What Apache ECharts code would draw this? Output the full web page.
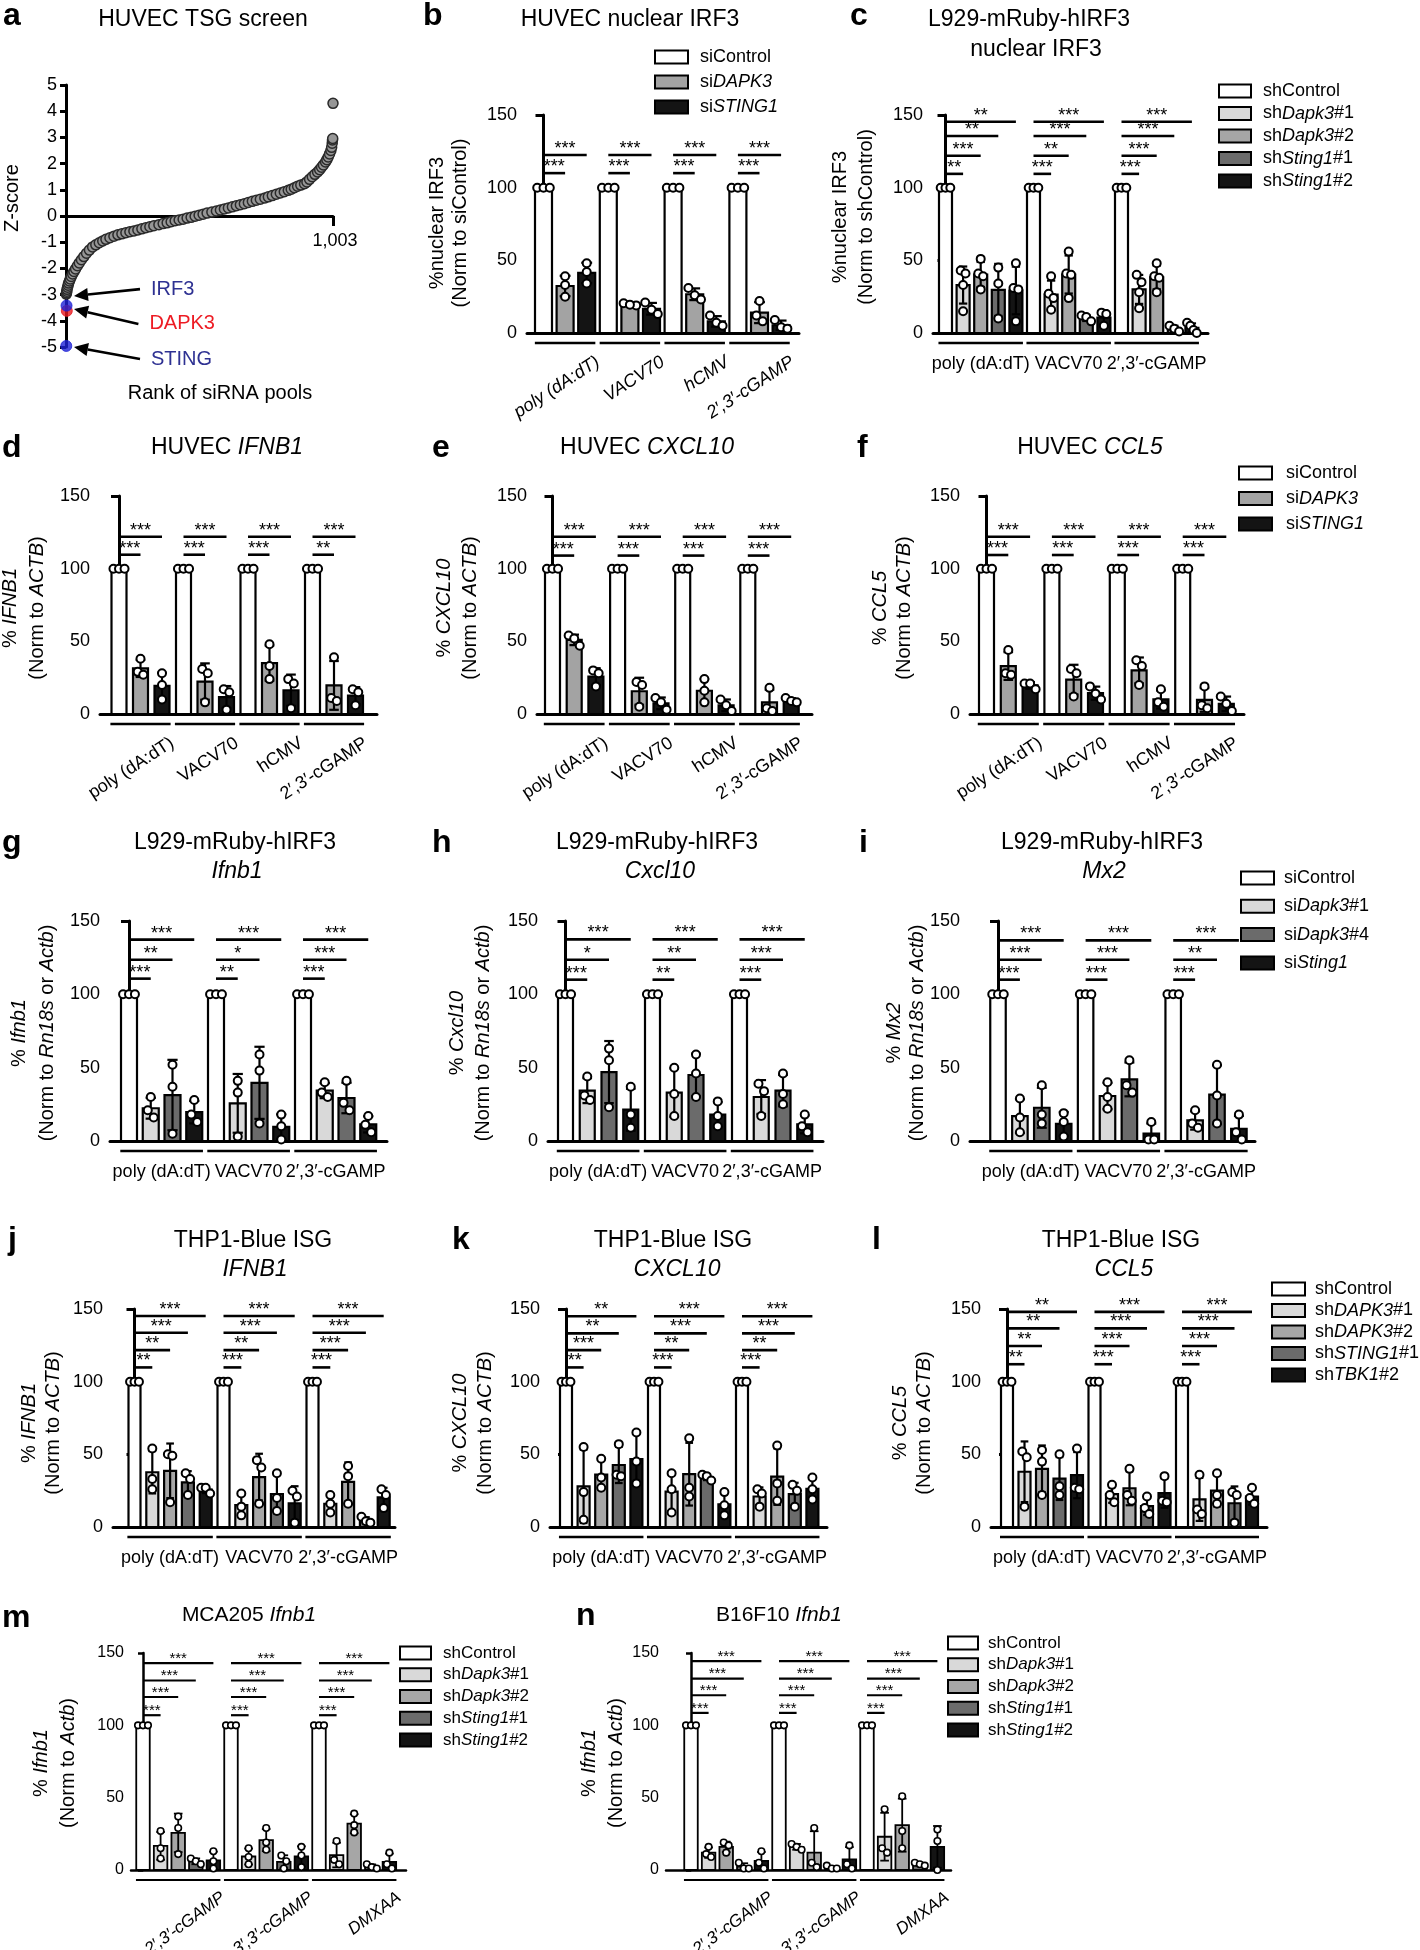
<!DOCTYPE html>
<html><head><meta charset="utf-8">
<script src="https://cdn.jsdelivr.net/npm/echarts@6/dist/echarts.min.js"></script>
<style>html,body{margin:0;padding:0;background:#fff}#c{width:1420px;height:1950px}</style>
</head><body><div id="c"></div><script>
const FONT = '"Liberation Sans", Arial, Helvetica, sans-serif';

/* ===================== DATA ===================== */
// Panel a: TSG screen ranks and Z-scores
const aRank = [1,2,3,4,6,8,10,13,16,20,25,30,36,43,50,58,67,77,88,100,112,125,138,150,165,180,195,210,225,240,255,270,285,300,315,330,349,365,380,395,410,425,440,455,470,485,500,515,530,548,565,580,595,610,625,640,655,670,685,700,715,730,747,760,775,790,805,820,835,846,858,870,882,896,905,915,925,935,945,953,960,967,975,980,985,990,995,998,1000,1001,1002,1003];
const aZ = [-2.98,-2.93,-2.87,-2.8,-2.72,-2.64,-2.56,-2.48,-2.4,-2.31,-2.21,-2.12,-2.02,-1.9,-1.79,-1.67,-1.55,-1.42,-1.3,-1.18,-1.1,-1.02,-0.95,-0.89,-0.83,-0.77,-0.72,-0.68,-0.64,-0.6,-0.57,-0.53,-0.49,-0.45,-0.41,-0.37,-0.33,-0.29,-0.26,-0.22,-0.18,-0.15,-0.12,-0.08,-0.05,-0.01,0.03,0.07,0.11,0.15,0.19,0.23,0.27,0.31,0.35,0.39,0.43,0.47,0.52,0.56,0.6,0.64,0.69,0.73,0.78,0.83,0.88,0.93,0.98,1.02,1.08,1.14,1.18,1.23,1.3,1.4,1.5,1.59,1.68,1.77,1.86,1.95,2.06,2.15,2.25,2.37,2.5,2.62,2.78,2.9,2.96,4.3];
const aHitName = ['DAPK3', 'IRF3', 'STING'];
const aHitRank = [3, 2, 1];
const aHitZ = [-3.62, -3.42, -4.96];
const aTickLabel = '1,003';

// Groups
const grpHuvec = ['poly (dA:dT)', 'VACV70', 'hCMV', '2′,3′-cGAMP'];
const grpThree = ['poly (dA:dT)', 'VACV70', '2′,3′-cGAMP'];
const grpAgon = ['2′,3′-cGAMP', '3′,3′-cGAMP', 'DMXAA'];
// Conditions
const namesSiHuman = ['siControl', 'siDAPK3', 'siSTING1'];
const namesShMouse = ['shControl', 'shDapk3#1', 'shDapk3#2', 'shSting1#1', 'shSting1#2'];
const namesSiMouse = ['siControl', 'siDapk3#1', 'siDapk3#4', 'siSting1'];
const namesShHuman = ['shControl', 'shDAPK3#1', 'shDAPK3#2', 'shSTING1#1', 'shTBK1#2'];

// Replicate values [condition][group][replicate]
const bPts = [[[100,100,100],[100,100,100],[100,100,100],[100,100,100]],
  [[39,33,25],[20.5,19,19.5],[31,26,23],[22,12,8]],
  [[48,42,34],[21,16,13],[12,7,5],[9,4,3]]];
const bSigY = [110, 122.5];
const bStars = [['***','***'],['***','***'],['***','***'],['***','***']];

const cPts = [[[100,100,100],[100,100,100],[100,100,100]],
  [[43,41,33,15],[39,27,24,16],[40,35,28,17]],
  [[51,41,39,30],[56,41,40,24],[48,39,38,28]],
  [[45,34,10],[12,11,8],[5,3,1]],
  [[48,31,30,8],[14,13,5],[7,5,2,0]]];
const cSigY = [109.5, 122, 135.6, 145.4];
const cStars = [['**','***','**','**'],['***','**','***','***'],['***','***','***','***']];

const dPts = [[[100,100,100],[100,100,100],[100,100,100],[100,100,100]],
  [[38,29,27],[31,28,8],[48,33,24],[39,11,9]],
  [[28,20,10],[17,15,3],[24,21,4],[17,15,6]]];
const dSigY = [109.6, 122];
const dStars = [['***','***'],['***','***'],['***','***'],['**','***']];

const ePts = [[[100,100,100],[100,100,100],[100,100,100],[100,100,100]],
  [[54,52,47],[22,20,5],[24,16,8],[18,4,2]],
  [[30,28,19],[11,8,3],[10,6,2],[11,9,8]]];
const eSigY = [109, 122];
const eStars = [['***','***'],['***','***'],['***','***'],['***','***']];

const fPts = [[[100,100,100],[100,100,100],[100,100,100],[100,100,100]],
  [[44,28,27],[31,28,12],[37,33,20],[19,6,4]],
  [[21,21,17],[19,14,10],[17,8,5],[12,7,2]]];
const fSigY = [109.4, 122];
const fStars = [['***','***'],['***','***'],['***','***'],['***','***']];

const gPts = [[[100,100,100],[100,100,100],[100,100,100]],
  [[30,21,16],[41,33,3],[40,33,30]],
  [[52,37,5],[59,48,12],[41,26,21]],
  [[28,18,13],[18,10,1],[17,11,6]]];
const gSigY = [110.7, 123.6, 137.3];
const gStars = [['***','**','***'],['**','*','***'],['***','***','***']];

const hPts = [[[100,100,100],[100,100,100],[100,100,100]],
  [[44,31,28],[50,32,17],[39,34,17]],
  [[63,55,23],[59,46,30],[46,32,25]],
  [[37,18,9],[27,17,10],[18,10,6]]];
const hSigY = [110, 123.6, 137.5];
const hStars = [['***','*','***'],['**','**','***'],['***','***','***']];

const iPts = [[[100,100,100],[100,100,100],[100,100,100]],
  [[29,16,6],[40,30,22],[21,12,9]],
  [[38,18,12],[55,38,33],[52,31,12]],
  [[19,13,3],[13,1,1],[18,6,1]]];
const iSigY = [110, 123.6, 136.8];
const iStars = [['***','***','***'],['***','***','***'],['***','**','***']];

const jPts = [[[100,100,100],[100,100,100],[100,100,100]],
  [[54,33,26],[23,14,8],[22,16,10]],
  [[50,49,17],[46,41,16],[42,35,16]],
  [[37,33,22],[37,20,11],[7,4,3]],
  [[27,27,23],[25,21,3],[26,22,13]]];
const jSigY = [109.8, 121.7, 133.7, 145.2];
const jStars = [['**','**','***','***'],['***','**','***','***'],['***','***','***','***']];

const kPts = [[[100,100,100],[100,100,100],[100,100,100]],
  [[55,24,5],[37,26,10],[26,23,14]],
  [[47,34,27],[61,27,21],[56,30,18]],
  [[57,36,35],[36,35,32],[29,25,14]],
  [[65,45,30],[24,15,8],[34,26,19]]];
const kSigY = [109.8, 121.7, 133.2, 145];
const kStars = [['**','***','**','**'],['***','**','***','***'],['***','**','***','***']];

const lPts = [[[100,100,100],[100,100,100],[100,100,100]],
  [[52,48,14],[29,22,17],[36,12,9]],
  [[53,45,22],[40,22,18],[37,22,16]],
  [[50,28,22],[21,13,9],[24,22,3]],
  [[54,27,26],[35,18,17],[27,20,16]]];
const lSigY = [112, 124.5, 136.7, 148];
const lStars = [['**','**','**','**'],['***','***','***','***'],['***','***','***','***']];

const mPts = [[[100,100,100],[100,100,100],[100,100,100]],
  [[27,15,8],[15,9,4],[20,7,4]],
  [[37,29,11],[29,19,14],[39,31,26]],
  [[8,6,4],[10,6,1],[4,2,1]],
  [[13,6,1],[16,10,2],[12,4,1]]];
const mSigY = [107, 119.6, 131, 143];
const mStars = [['***','***','***','***'],['***','***','***','***'],['***','***','***','***']];

const nPts = [[[100,100,100],[100,100,100],[100,100,100]],
  [[16,11,9],[18,16,14],[42,15,12]],
  [[19,17,12],[29,5,2],[51,27,15]],
  [[5,1,1],[3,1,1],[5,4,3]],
  [[13,5,1],[17,4,1],[28,20,0]]];
const nSigY = [108.6, 120.8, 132.3, 144.4];
const nStars = [['***','***','***','***'],['***','***','***','***'],['***','***','***','***']];

/* ===================== STYLE / LAYOUT ===================== */
const fill3 = ['#ffffff', '#a3a3a3', '#141414'];
const fill4 = ['#ffffff', '#d9d9d9', '#6b6b6b', '#141414'];
const fill5 = ['#ffffff', '#d9d9d9', '#a6a6a6', '#6b6b6b', '#141414'];

const L = {
  b: {axisX:527, c0:543.5, pitch:21.6, xEnd:799, top:115, bottom:333, bw:17, rot:true, italic:true},
  c: {axisX:933, c0:945.5, pitch:17.6, xEnd:1208, top:115, bottom:333, bw:13},
  d: {axisX:100, c0:119, pitch:21.5, xEnd:377, top:496, bottom:714, bw:15, rot:true},
  e: {axisX:537, c0:552.5, pitch:21.7, xEnd:812, top:496, bottom:714, bw:15, rot:true},
  f: {axisX:970, c0:986.5, pitch:21.8, xEnd:1244, top:496, bottom:714, bw:15, rot:true},
  g: {axisX:110, c0:129, pitch:21.75, xEnd:387, top:921, bottom:1141, bw:16},
  h: {axisX:548, c0:565.5, pitch:21.75, xEnd:823, top:921, bottom:1141, bw:15},
  i: {axisX:970, c0:998, pitch:21.9, xEnd:1255, top:921, bottom:1141, bw:15.5},
  j: {axisX:113, c0:134.5, pitch:17.8, xEnd:395, top:1309, bottom:1527, bw:12},
  k: {axisX:550, c0:566, pitch:17.6, xEnd:827, top:1309, bottom:1527, bw:12},
  l: {axisX:991, c0:1007, pitch:17.5, xEnd:1267, top:1309, bottom:1527, bw:12},
  m: {axisX:131, c0:143, pitch:17.6, xEnd:406, top:1653, bottom:1870, bw:13.5, rot:true, italic:true, small:true},
  n: {axisX:666, c0:691, pitch:17.6, xEnd:951, top:1653, bottom:1870, bw:13.5, rot:true, italic:true, small:true}
};
// panel a annotation arrows (data coordinates: rank, z)
const aArrowFrom = {IRF3:[278, -2.79], DAPK3:[272, -4.12], STING:[278, -5.46]};
const aArrowTo = {IRF3:[30, -3.05], DAPK3:[30, -3.55], STING:[30, -5.0]};

/* ===================== BUILD ===================== */
const grids = [], xAxes = [], yAxes = [], series = [], graphics = [], legends = [];
const mean = a => a.reduce((s, v) => s + v, 0) / a.length;
const sd = a => { if (a.length < 2) return 0; const m = mean(a); return Math.sqrt(a.reduce((s, v) => s + (v - m) * (v - m), 0) / (a.length - 1)); };
function spread(vals, thr) {
  const idx = vals.map((v, i) => i).sort((p, q) => vals[q] - vals[p]);
  const offs = new Array(vals.length).fill(0);
  let cl = [idx[0]];
  const flush = () => { const k = cl.length; if (k > 1) { const span = Math.min(0.74, (k - 1) * 0.37); cl.forEach((ii, j) => { offs[ii] = -span / 2 + span * j / (k - 1); }); } };
  for (let j = 1; j < idx.length; j++) {
    if (vals[cl[cl.length - 1]] - vals[idx[j]] < thr) cl.push(idx[j]); else { flush(); cl = [idx[j]]; }
  }
  flush();
  return offs;
}
function txt(x, y, text, size, o) {
  o = o || {};
  const col = o.color || '#000';
  graphics.push({type:'text', x, y, rotation: o.rot || 0, silent:true, z: 10,
    style:{text, fill: col, fontSize: size, fontFamily: FONT, fontWeight: o.bold ? 'bold' : 'normal', fontStyle: o.italic ? 'italic' : 'normal',
      align: o.align || 'center', textAlign: o.align || 'center', verticalAlign:'middle', textVerticalAlign:'middle',
      rich:{i:{fontStyle:'italic', fontSize:size, fontFamily:FONT, fill:col, color:col}}}});
}
function legendFmt(name) {
  const r = name.match(/^(si|sh)(.+?)(#\d+)?$/);
  if (!r || r[2] === 'Control') return name;
  return r[1] + '{i|' + r[2] + '}' + (r[3] || '');
}
function legendAt(names, left, c1, spacing, textX, iw, fs) {
  const lh = fs + 2;
  legends.push({orient:'vertical', left, top: c1 - lh / 2, itemWidth: iw, itemHeight: 13, itemGap: spacing - lh, padding: 0,
    icon:'rect', data: names.slice(), selectedMode: false, formatter: legendFmt,
    itemStyle:{borderColor:'#000', borderWidth: 2},
    textStyle:{color:'#000', fontSize: fs, fontFamily: FONT, lineHeight: lh, padding:[0, 0, 0, Math.max(0, textX - (left + iw + 5))],
      rich:{i:{fontStyle:'italic', fontSize: fs, fontFamily: FONT, color:'#000', lineHeight: lh}}}});
}

function barPanel(P, groups, names, fills, pts, sigY, stars) {
  const gi = grids.length, n = names.length, bwU = P.bw / P.pitch, small = !!P.small;
  const axW = small ? 2.5 : 3, lw = small ? 1.8 : 2.2;
  grids.push({left: P.axisX, top: P.top, width: P.xEnd - P.axisX, height: P.bottom - P.top});
  xAxes.push({gridIndex: gi, type:'value', min: (P.axisX - P.c0) / P.pitch, max: (P.xEnd - P.c0) / P.pitch,
    axisLine:{show:true, onZero:false, lineStyle:{color:'#000', width: axW}}, axisTick:{show:false}, axisLabel:{show:false}, splitLine:{show:false}});
  yAxes.push({gridIndex: gi, type:'value', min: 0, max: 150, interval: 50,
    axisLine:{show:true, lineStyle:{color:'#000', width: axW}},
    axisTick:{show:true, length: small ? 5 : 8, lineStyle:{color:'#000', width: axW}},
    axisLabel:{color:'#000', fontSize: small ? 16 : 18, fontFamily: FONT, margin: small ? 7 : 10},
    splitLine:{show:false}});
  const pos = (g, s) => g * n + s;
  names.forEach((name, s) => {
    const data = groups.map((_, g) => [pos(g, s), mean(pts[s][g]), sd(pts[s][g])]);
    series.push({type:'custom', name, xAxisIndex: gi, yAxisIndex: gi, encode:{x:0, y:1}, data, clip:false, silent:true,
      itemStyle:{color: fills[s], borderColor:'#000', borderWidth: 2},
      renderItem: (params, api) => {
        const p = api.value(0), m = api.value(1), e = api.value(2);
        const a = api.coord([p - bwU / 2, m]), b = api.coord([p + bwU / 2, 0]);
        const ch = [{type:'rect', shape:{x:a[0], y:a[1], width:b[0] - a[0], height:b[1] - a[1]}, style:{fill: fills[s], stroke:'#000', lineWidth: lw}}];
        if (e > 0.01) {
          const hi = m + e, lo = Math.max(0, m - e);
          const t = api.coord([p, hi]), bo = api.coord([p, lo]);
          const cl = api.coord([p - bwU * 0.32, hi]), cr = api.coord([p + bwU * 0.32, hi]);
          ch.push({type:'line', shape:{x1:t[0], y1:t[1], x2:bo[0], y2:bo[1]}, style:{stroke:'#000', lineWidth: lw}});
          ch.push({type:'line', shape:{x1:cl[0], y1:cl[1], x2:cr[0], y2:cr[1]}, style:{stroke:'#000', lineWidth: lw}});
          if (lo > 0) {
            const l2 = api.coord([p - bwU * 0.32, lo]), r2 = api.coord([p + bwU * 0.32, lo]);
            ch.push({type:'line', shape:{x1:l2[0], y1:l2[1], x2:r2[0], y2:r2[1]}, style:{stroke:'#000', lineWidth: lw}});
          }
        }
        return {type:'group', children: ch};
      }});
  });
  // replicate dots
  const dotPx = small ? 6.5 : 8;
  const thr = dotPx * 0.95 / ((P.bottom - P.top) / 150);
  const dots = [];
  names.forEach((_, s) => groups.forEach((_, g) => {
    const v = pts[s][g], off = spread(v, thr);
    v.forEach((val, k) => dots.push([pos(g, s) + off[k] * bwU, val]));
  }));
  series.push({type:'scatter', xAxisIndex: gi, yAxisIndex: gi, data: dots, symbol:'circle', symbolSize: dotPx, clip:false, silent:true,
    itemStyle:{color:'#fff', borderColor:'#000', borderWidth: small ? 1.6 : 2, opacity: 1}});
  // annotations
  const ann = [];
  groups.forEach((gname, g) => {
    stars[g].forEach((st, k) => ann.push({t:'sig', x1: pos(g, 0), x2: pos(g, k + 1), y: sigY[k], text: st}));
    ann.push({t:'under', x1: pos(g, 0) - 0.4, x2: pos(g, n - 1) + 0.4});
    ann.push({t:'lab', text: gname, xc: (pos(g, 0) + pos(g, n - 1)) / 2, xr: pos(g, n - 1) + bwU / 2});
  });
  const starFs = small ? 15 : 18, labFs = small ? 17 : 18;
  series.push({type:'custom', xAxisIndex: gi, yAxisIndex: gi, data: ann.map((_, i) => [0, 0, i]), clip:false, silent:true, z: 5,
    renderItem: (params, api) => {
      const a = ann[params.dataIndex];
      if (a.t === 'sig') {
        const p1 = api.coord([a.x1, a.y]), p2 = api.coord([a.x2, a.y]);
        return {type:'group', children:[
          {type:'line', shape:{x1:p1[0], y1:p1[1], x2:p2[0], y2:p2[1]}, style:{stroke:'#000', lineWidth: small ? 2.2 : 2.6}},
          {type:'text', x:(p1[0] + p2[0]) / 2, y: p1[1] + 3, style:{text:a.text, fill:'#000', fontSize: starFs, fontFamily: FONT,
            align:'center', textAlign:'center', verticalAlign:'bottom', textVerticalAlign:'bottom'}}]};
      }
      if (a.t === 'under') {
        const p1 = api.coord([a.x1, 0]), p2 = api.coord([a.x2, 0]);
        return {type:'line', shape:{x1:p1[0], y1:p1[1] + 10, x2:p2[0], y2:p2[1] + 10}, style:{stroke:'#000', lineWidth: small ? 2.2 : 2.6}};
      }
      if (P.rot) {
        const pr = api.coord([a.xr, 0]);
        return {type:'text', x: pr[0] - 2, y: pr[1] + (small ? 19 : 20), rotation: (small ? 36 : 33) * Math.PI / 180,
          style:{text:a.text, fill:'#000', fontSize: labFs, fontFamily: FONT, fontStyle: P.italic ? 'italic' : 'normal',
            align:'right', textAlign:'right', verticalAlign:'top', textVerticalAlign:'top'}};
      }
      const pc = api.coord([a.xc, 0]);
      return {type:'text', x: pc[0], y: pc[1] + 31, style:{text:a.text, fill:'#000', fontSize: labFs, fontFamily: FONT,
        align:'center', textAlign:'center', verticalAlign:'middle', textVerticalAlign:'middle'}};
    }});
}

/* ---- Panel a ---- */
(function () {
  const gi = grids.length;
  grids.push({left: 66, top: 85, width: 267, height: 262});
  xAxes.push({gridIndex: gi, type:'value', min: 0, max: 1003, interval: 1003,
    axisLine:{show:true, onZero:true, lineStyle:{color:'#000', width: 3}},
    axisTick:{show:true, length: 10, lineStyle:{color:'#000', width: 3}},
    axisLabel:{show:false}, splitLine:{show:false}});
  yAxes.push({gridIndex: gi, type:'value', min: -5, max: 5, interval: 1,
    axisLine:{show:true, onZero:false, lineStyle:{color:'#000', width: 3}},
    axisTick:{show:true, length: 6, lineStyle:{color:'#000', width: 3}},
    axisLabel:{color:'#000', fontSize: 18, fontFamily: FONT, margin: 9}, splitLine:{show:false}});
  series.push({type:'scatter', xAxisIndex: gi, yAxisIndex: gi, data: aRank.map((r, i) => [r, aZ[i]]), symbol:'circle', symbolSize: 10,
    clip:false, silent:true, itemStyle:{color:'#969696', borderColor:'#2a2a2a', borderWidth: 1.5, opacity: 1}});
  const hitCol = ['#e8191f', '#1e22d6', '#1e22d6'];
  const txtCol = ['#ed1c24', '#2e3192', '#2e3192'];
  series.push({type:'scatter', xAxisIndex: gi, yAxisIndex: gi, clip:false, silent:true, symbol:'circle', symbolSize: 11, z: 4,
    data: aHitName.map((nm, i) => ({value:[aHitRank[i], aHitZ[i]], itemStyle:{color: hitCol[i], borderColor: hitCol[i], borderWidth: 1}}))});
  const arrowNames = ['IRF3', 'DAPK3', 'STING'];
  series.push({type:'custom', xAxisIndex: gi, yAxisIndex: gi, clip:false, silent:true, z: 6,
    data: arrowNames.map((_, i) => [0, 0, i]),
    renderItem: (params, api) => {
      const nm = arrowNames[params.dataIndex];
      const col = txtCol[aHitName.indexOf(nm)];
      const f = api.coord(aArrowFrom[nm]), t = api.coord(aArrowTo[nm]);
      const ang = Math.atan2(t[1] - f[1], t[0] - f[0]);
      const hl = 14, hw = 6.5;
      const bx = t[0] - hl * Math.cos(ang), by = t[1] - hl * Math.sin(ang);
      const px = -Math.sin(ang), py = Math.cos(ang);
      return {type:'group', children:[
        {type:'line', shape:{x1:f[0], y1:f[1], x2:bx, y2:by}, style:{stroke:'#000', lineWidth: 2.6}},
        {type:'polygon', shape:{points:[[t[0], t[1]], [bx + px * hw, by + py * hw], [bx - px * hw, by - py * hw]]}, style:{fill:'#000'}},
        {type:'text', x: f[0] + 11, y: f[1], style:{text: nm, fill: col, fontSize: 20, fontFamily: FONT,
          align:'left', textAlign:'left', verticalAlign:'middle', textVerticalAlign:'middle'}}]};
    }});
})();
txt(335, 241, aTickLabel, 18);

barPanel(L.b, grpHuvec, namesSiHuman, fill3, bPts, bSigY, bStars);
barPanel(L.c, grpThree, namesShMouse, fill5, cPts, cSigY, cStars);
barPanel(L.d, grpHuvec, namesSiHuman, fill3, dPts, dSigY, dStars);
barPanel(L.e, grpHuvec, namesSiHuman, fill3, ePts, eSigY, eStars);
barPanel(L.f, grpHuvec, namesSiHuman, fill3, fPts, fSigY, fStars);
barPanel(L.g, grpThree, namesSiMouse, fill4, gPts, gSigY, gStars);
barPanel(L.h, grpThree, namesSiMouse, fill4, hPts, hSigY, hStars);
barPanel(L.i, grpThree, namesSiMouse, fill4, iPts, iSigY, iStars);
barPanel(L.j, grpThree, namesShHuman, fill5, jPts, jSigY, jStars);
barPanel(L.k, grpThree, namesShHuman, fill5, kPts, kSigY, kStars);
barPanel(L.l, grpThree, namesShHuman, fill5, lPts, lSigY, lStars);
barPanel(L.m, grpAgon, namesShMouse, fill5, mPts, mSigY, mStars);
barPanel(L.n, grpAgon, namesShMouse, fill5, nPts, nSigY, nStars);

/* ---- Legends ---- */
legendAt(namesSiHuman, 654, 57, 25, 699, 33, 18);
legendAt(namesShMouse, 1218, 91, 22.5, 1262, 32, 18);
legendAt(namesSiHuman, 1238, 473, 25.5, 1285, 33, 18);
legendAt(namesSiMouse, 1240, 878, 28.3, 1283, 33, 18);
legendAt(namesShHuman, 1271, 1289, 21.5, 1314, 33, 18);
legendAt(namesShMouse, 399, 1653, 21.75, 442, 31, 17);
legendAt(namesShMouse, 947, 1643, 21.75, 987, 30, 17);

/* ---- Texts: panel letters, titles, axis names ---- */
[['a',3,16],['b',423,16],['c',850,16],['d',2,448],['e',432,448],['f',857,448],['g',2,843],['h',432,843],['i',859,843],
 ['j',8,1240],['k',452,1240],['l',872,1240],['m',2,1618],['n',576,1616]].forEach(t => txt(t[1], t[2], t[0], 32, {bold:true, align:'left'}));

[[203,20,'HUVEC TSG screen'],[630,20,'HUVEC nuclear IRF3'],[1029,20,'L929-mRuby-hIRF3'],[1036,50,'nuclear IRF3'],
 [227,448,'HUVEC {i|IFNB1}'],[647,448,'HUVEC {i|CXCL10}'],[1090,448,'HUVEC {i|CCL5}'],
 [235,843,'L929-mRuby-hIRF3'],[237,872,'{i|Ifnb1}'],[657,843,'L929-mRuby-hIRF3'],[660,872,'{i|Cxcl10}'],[1102,843,'L929-mRuby-hIRF3'],[1104,872,'{i|Mx2}'],
 [253,1241,'THP1-Blue ISG'],[255,1270,'{i|IFNB1}'],[673,1241,'THP1-Blue ISG'],[677,1270,'{i|CXCL10}'],[1121,1241,'THP1-Blue ISG'],[1124,1270,'{i|CCL5}']
].forEach(t => txt(t[0], t[1], t[2], 23));
txt(249, 1615, 'MCA205 {i|Ifnb1}', 21);
txt(779, 1615, 'B16F10 {i|Ifnb1}', 21);

const R90 = Math.PI / 2;
[[12,198,'Z-score'],
 [437,223,'%nuclear IRF3'],[460,223,'(Norm to siControl)'],
 [840,217,'%nuclear IRF3'],[866,217,'(Norm to shControl)'],
 [10,608,'% {i|IFNB1}'],[37,608,'(Norm to {i|ACTB})'],
 [444,608,'% {i|CXCL10}'],[470,608,'(Norm to {i|ACTB})'],
 [880,608,'% {i|CCL5}'],[904,608,'(Norm to {i|ACTB})'],
 [19,1033,'% {i|Ifnb1}'],[47,1033,'(Norm to {i|Rn18s} or {i|Actb})'],
 [457,1033,'% {i|Cxcl10}'],[483,1033,'(Norm to {i|Rn18s} or {i|Actb})'],
 [894,1033,'% {i|Mx2}'],[917,1033,'(Norm to {i|Rn18s} or {i|Actb})'],
 [29,1423,'% {i|IFNB1}'],[53,1423,'(Norm to {i|ACTB})'],
 [460,1423,'% {i|CXCL10}'],[485,1423,'(Norm to {i|ACTB})'],
 [900,1423,'% {i|CCL5}'],[924,1423,'(Norm to {i|ACTB})'],
 [41,1763,'% {i|Ifnb1}'],[68,1763,'(Norm to {i|Actb})'],
 [589,1763,'% {i|Ifnb1}'],[616,1763,'(Norm to {i|Actb})']
].forEach(t => txt(t[0], t[1], t[2], 20, {rot: R90}));
txt(220, 393, 'Rank of siRNA pools', 20);

const chart = echarts.init(document.getElementById('c'), null, {renderer:'canvas'});
chart.setOption({
  animation: false,
  backgroundColor: '#ffffff',
  textStyle: {fontFamily: FONT},
  grid: grids, xAxis: xAxes, yAxis: yAxes, series, legend: legends,
  graphic: {elements: graphics}
});
</script></body></html>
